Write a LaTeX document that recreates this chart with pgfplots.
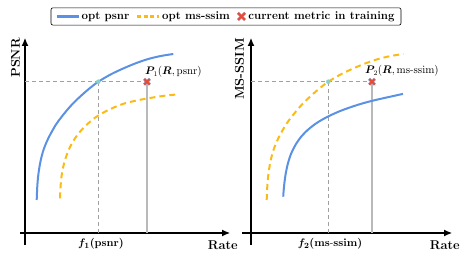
\documentclass[border=0pt]{standalone}
\usepackage{amsmath}
\usepackage{pgfplots}
\pgfplotsset{compat=1.18}
\usetikzlibrary{arrows.meta}
\definecolor{cblue}{RGB}{90,145,228}
\definecolor{cyel}{RGB}{250,188,20}
\definecolor{cred}{RGB}{230,75,55}
\definecolor{cedge}{RGB}{150,170,215}
\definecolor{cdot}{RGB}{135,210,200}
\definecolor{gdash}{RGB}{160,160,160}
\definecolor{gsol}{RGB}{185,185,185}
\pgfplotsset{
  panel/.style={
    scale only axis, width=210pt, height=207pt,
    ymin=-12, ymax=195,
    axis lines=middle, clip=false,
    xtick=\empty, ytick=\empty,
    x axis line style={line width=1.1pt,-{Latex[length=8pt,width=7pt]}},
    y axis line style={line width=1.1pt,-{Latex[length=8pt,width=7pt]}},
  },
  bcurve/.style={cblue, line width=2pt, smooth, no markers},
  ycurve/.style={cyel, line width=2pt, smooth, no markers, dash pattern=on 6pt off 4pt},
  hdash/.style={gdash, line width=0.8pt, dash pattern=on 4pt off 3pt, no markers},
  vsol/.style={gsol, line width=1.2pt, no markers},
}
\begin{document}
\begin{tikzpicture}
\path[use as bounding box] (0,0) rectangle (463pt,261pt);
% ---------------- left panel
\begin{axis}[panel, at={(20pt,16pt)}, anchor=south west, xmin=-5, xmax=205,
  legend columns=-1,
  legend style={at={(0.981,1.104)}, anchor=center, draw=black, line width=0.6pt,
    rounded corners=2pt, font=\fontsize{11.5}{13}\selectfont\bfseries, inner xsep=4.5pt, inner ysep=2pt,
    /tikz/every even column/.append style={column sep=4.5pt}},
  legend image code/.code={\draw[#1] (0pt,0pt) -- (22pt,0pt);},
]
\addlegendimage{color=cblue, line width=2.2pt}
\addlegendentry{opt psnr}
\addlegendimage{color=cyel, line width=2.2pt, dash pattern=on 4pt off 2.5pt}
\addlegendentry{opt ms-ssim}
\addlegendimage{legend image code/.code={\draw[cedge, line width=3pt] (11pt,0pt) +(-3.5pt,-3.5pt) -- +(3.5pt,3.5pt) +(-3.5pt,3.5pt) -- +(3.5pt,-3.5pt);
  \draw[cred, line width=2pt] (11pt,0pt) +(-3.5pt,-3.5pt) -- +(3.5pt,3.5pt) +(-3.5pt,3.5pt) -- +(3.5pt,-3.5pt);}}
\addlegendentry{current metric in training}
\addplot[hdash, forget plot] coordinates {(0,151.3) (122,151.3)};
\addplot[hdash, forget plot] coordinates {(73.3,0) (73.3,151.3)};
\addplot[vsol, forget plot] coordinates {(122,0) (122,151.3)};
\addplot[bcurve, forget plot] coordinates {
(11.7,33) (12.2,45) (13.0,55.5) (14.2,64.5) (15.8,73) (18.3,82.5) (21.6,91) (25,98)
(30.8,108.2) (36.7,116.3) (45,126.3) (53.3,134.7) (63.3,143.6) (73.3,151.3)
(86.7,159.1) (100,165.3) (111.7,170.1) (123.3,174) (135.8,177) (148.3,179)};
\addplot[ycurve, forget plot] coordinates {
(35,34.7) (35.6,47) (36.7,58) (38.8,68.5) (41.7,78) (45.5,87) (50,94.7) (56.3,102.8)
(63.3,109.7) (71.5,116.3) (80,121.3) (90,126) (100,129.7) (113,132.8) (126.7,135.3)
(140,137.3) (153.3,138.7)};
\addplot[only marks, mark=*, mark size=2pt, mark options={fill=cdot, draw=cdot}, forget plot] coordinates {(73.3,151.3)};
\addplot[only marks, mark=x, mark size=4pt, mark options={draw=cedge, line width=3pt}, forget plot] coordinates {(122,151.3)};
\addplot[only marks, mark=x, mark size=4pt, mark options={draw=cred, line width=2pt}, forget plot] coordinates {(122,151.3)};
\node[rotate=90, anchor=east, inner sep=0pt, font=\fontsize{12.7}{15}\selectfont\bfseries] at (axis cs:-9.5,195) {PSNR};
\node[anchor=base east, inner sep=0pt, font=\fontsize{12.8}{15}\selectfont\bfseries] at (axis cs:213,-17) {Rate};
\node[anchor=base, inner sep=0pt, font=\fontsize{11}{13}\selectfont\boldmath] at (axis cs:76,-13.5) {$f_1(\mathrm{psnr})$};
\node[anchor=base west, inner sep=0pt, font=\fontsize{10.5}{12}\selectfont] at (axis cs:120,158) {$\boldsymbol{P}_{\!1}(\boldsymbol{R},\mathrm{psnr})$};
\end{axis}
% ---------------- right panel
\begin{axis}[panel, at={(242pt,16pt)}, anchor=south west, xmin=-9, xmax=201]
\addplot[hdash] coordinates {(0,151.3) (121,151.3)};
\addplot[hdash] coordinates {(77.3,0) (77.3,151.3)};
\addplot[vsol] coordinates {(121,0) (121,151.3)};
\addplot[ycurve] coordinates {
(15.7,33) (16.2,45) (17.0,55.5) (18.2,64.5) (19.8,73) (22.3,82.5) (25.6,91) (29,98)
(34.8,108.2) (40.7,116.3) (49,126.3) (57.3,134.7) (67.3,143.6) (77.3,151.3)
(90.7,159.1) (104,165.3) (115.7,170.1) (127.3,174) (139.8,177) (152.3,179)};
\addplot[bcurve] coordinates {
(32.2,36.3) (32.7,43.0) (33.2,48.2) (34,54.7) (35,60.9) (36.5,67.9) (38.5,74.9)
(41,81.4) (45,89.0) (50,96.1) (57,103.3) (66,110.2) (77,116.5) (90,122.3)
(105,127.6) (122,132.4) (152,139.1)};
\addplot[only marks, mark=*, mark size=2pt, mark options={fill=cdot, draw=cdot}] coordinates {(77.3,151.3)};
\addplot[only marks, mark=x, mark size=4pt, mark options={draw=cedge, line width=3pt}] coordinates {(121,151.3)};
\addplot[only marks, mark=x, mark size=4pt, mark options={draw=cred, line width=2pt}] coordinates {(121,151.3)};
\node[rotate=90, anchor=east, inner sep=0pt, font=\fontsize{12.8}{15}\selectfont\bfseries] at (axis cs:-11.5,195) {MS-SSIM};
\node[anchor=base east, inner sep=0pt, font=\fontsize{12.8}{15}\selectfont\bfseries] at (axis cs:209,-17) {Rate};
\node[anchor=base, inner sep=0pt, font=\fontsize{11}{13}\selectfont\boldmath] at (axis cs:79,-13.5) {$f_2(\mathrm{ms\text{-}ssim})$};
\node[anchor=base west, inner sep=0pt, font=\fontsize{10.5}{12}\selectfont] at (axis cs:114,159) {$\boldsymbol{P}_{\!2}(\boldsymbol{R},\mathrm{ms\text{-}ssim})$};
\end{axis}
\end{tikzpicture}
\end{document}
